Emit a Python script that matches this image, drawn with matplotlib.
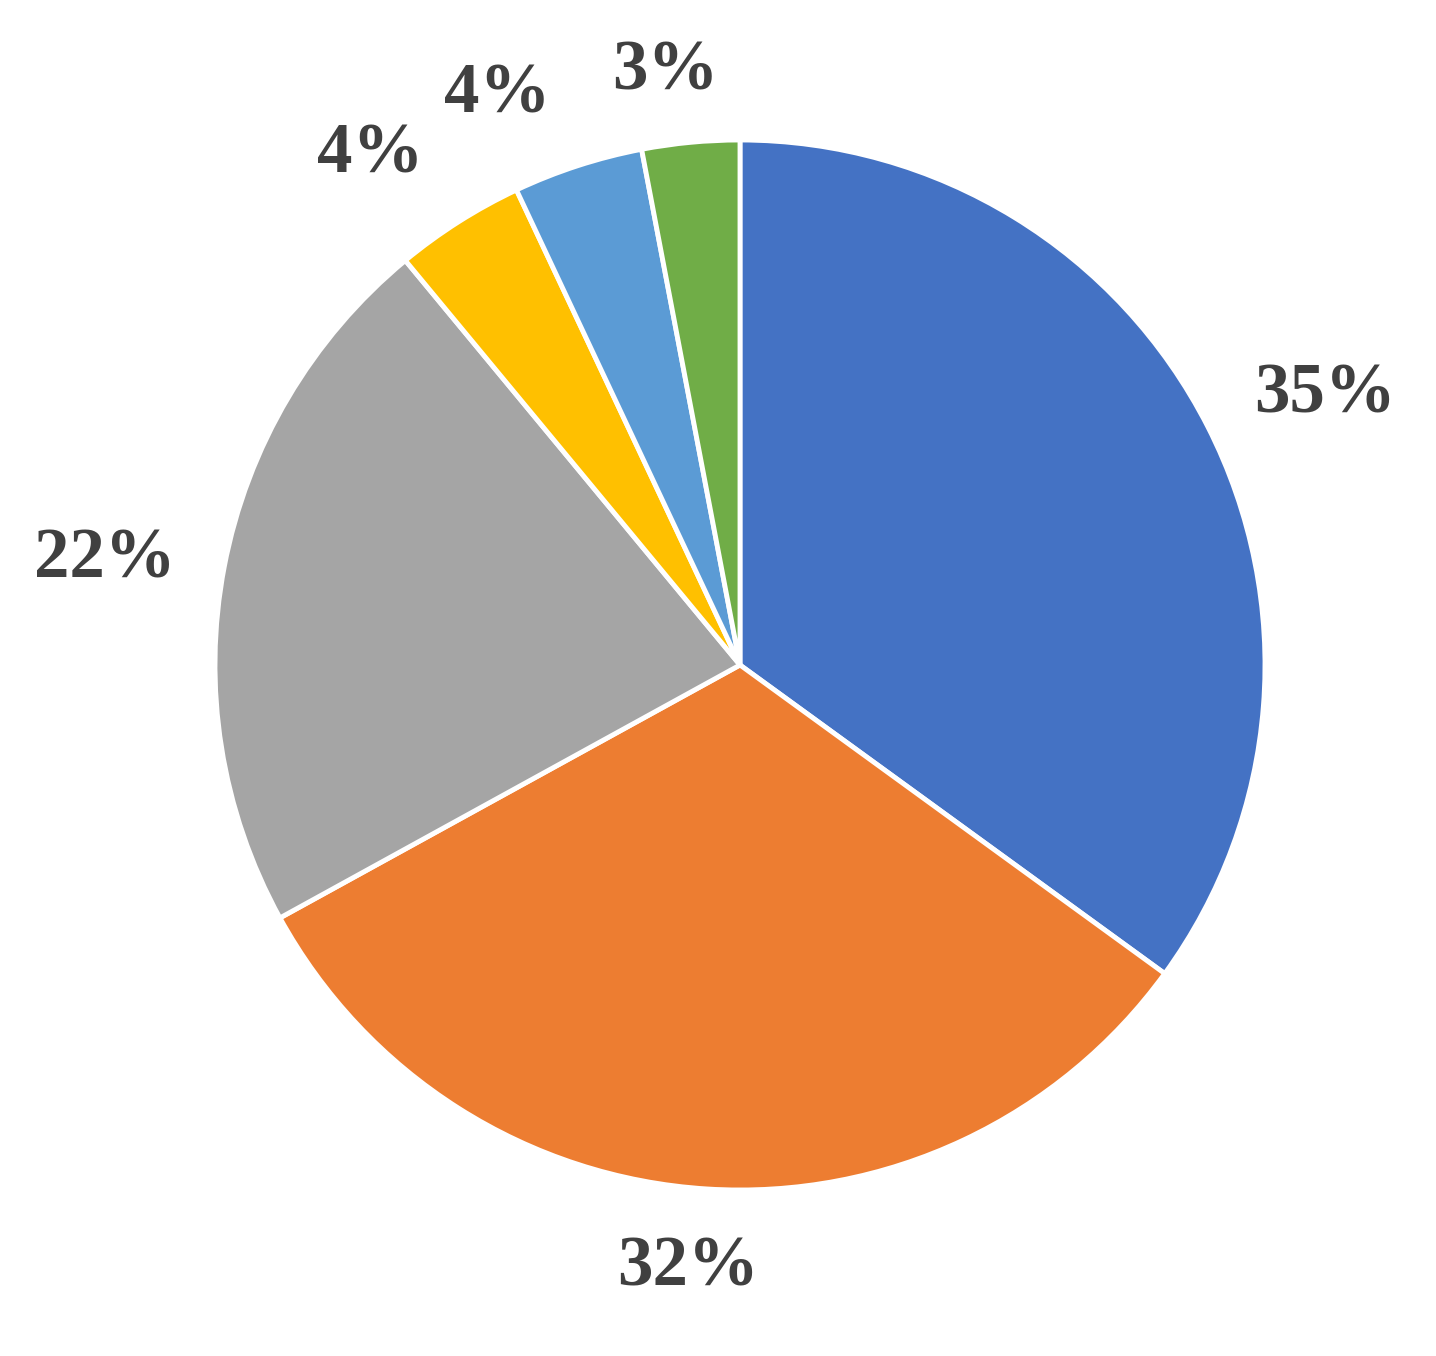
import matplotlib
matplotlib.use("Agg")
import matplotlib.pyplot as plt
import numpy as np

values = [35, 32, 22, 4, 4, 3]
labels = ["35%", "32%", "22%", "4%", "4%", "3%"]
colors = ["#4472C4", "#ED7D31", "#A5A5A5", "#FFC000", "#5B9BD5", "#70AD47"]
label_dist = [1.227, 1.153, 1.226, 1.20, 1.18, 1.138]
label_turn = [-2.2, -1.3, 1.4, 3.6, 5.1, 1.8]  # degrees off the wedge mid-angle

fig = plt.figure(figsize=(14.36, 13.56), dpi=100)
ax = fig.add_axes([0, 0, 1, 1])
wedges, _ = ax.pie(values, colors=colors, startangle=90, counterclock=False,
                   wedgeprops=dict(edgecolor="white", linewidth=3.5))

total = sum(values)
start = 90.0
for v, lab, d, t in zip(values, labels, label_dist, label_turn):
    ang = start - 360.0 * v / total / 2 + t
    start -= 360.0 * v / total
    x = d * np.cos(np.radians(ang))
    y = d * np.sin(np.radians(ang))
    ax.text(x, y, lab, ha="center", va="center", fontsize=51,
            fontweight="bold", family="Liberation Serif", color="#404040")

ax.set_aspect("auto")
ax.set_xlim(-740 / 525, (1436 - 740) / 525)
ax.set_ylim(-(1356 - 665) / 525, 665 / 525)
ax.axis("off")
fig.savefig("out.png", dpi=100, facecolor="white")
